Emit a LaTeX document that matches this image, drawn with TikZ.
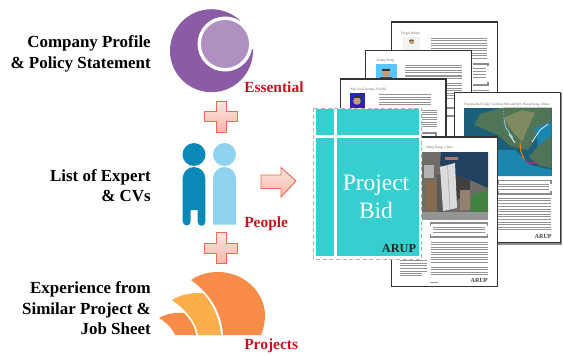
\documentclass[tikz,border=0pt]{standalone}
\usepackage{fontspec}
\setmainfont{Liberation Serif}
\definecolor{purpleD}{HTML}{8B5CA5}
\definecolor{purpleL}{HTML}{AF90C1}
\definecolor{blueD}{HTML}{0A88B8}
\definecolor{blueL}{HTML}{8FD3EE}
\definecolor{orangeD}{HTML}{F88B48}
\definecolor{orangeL}{HTML}{FBAE4A}
\definecolor{teal1}{HTML}{35CFD0}
\definecolor{arrowE}{HTML}{EE6A50}
\definecolor{labelred}{HTML}{C8141E}
\definecolor{water}{HTML}{1B5F78}
\definecolor{waterB}{HTML}{1B86AE}
\definecolor{landA}{HTML}{4F7458}
\definecolor{landB}{HTML}{7F8A60}
\definecolor{navy}{HTML}{22405F}
\definecolor{cityG}{HTML}{6F6C67}
\definecolor{skin}{HTML}{C9996F}
\tikzset{
 x=0.75pt,y=-0.75pt,
 caption/.style={font=\bfseries\fontsize{12.7}{15.3}\selectfont,align=right,anchor=east,inner sep=0pt,text=black},
 tag/.style={font=\bfseries\fontsize{11.6}{14}\selectfont,text=labelred,anchor=west,inner sep=0pt},
 plus/.style={draw=arrowE,line width=0.7pt,top color=arrowE!18,bottom color=arrowE!48},
 sheet/.style={draw=black!80,line width=0.9pt,fill=white},
 txt/.style={draw=black!42,line width=0.55pt},
 brk/.style={draw=black!45,line width=0.9pt},
 small/.style={font=\fontsize{2.6}{3}\selectfont,text=black!60,anchor=west,inner sep=0pt},
 arup/.style={font=\bfseries\fontsize{4.6}{5}\selectfont,text=black!75,anchor=east,inner sep=0pt},
}
\newcommand{\lines}[5]{%
 \foreach \k in {1,...,#4}{\draw[txt] (#1,{#3+(\k-1)*#5}) -- (#2,{#3+(\k-1)*#5});}}
\begin{document}
\begin{tikzpicture}
\useasboundingbox (0,0) rectangle (563,356);
% captions
\node[caption] (c1) at (151,54) {Company Profile\\\& Policy Statement};
\node[caption] (c2) at (151,185.5) {List of Expert\\\& CVs};
\node[caption] (c3) at (151,308.5) {Experience from\\Similar Project \&\\Job Sheet};
% essential icon
\fill[purpleD] (211.5,50.7) circle (41.5);
\fill[white] (225,44) -- (255,0) -- (290,0) -- (281,54) -- cycle;
\fill[white] (225,44) circle (27.5);
\fill[purpleL] (225,44) circle (24);
% plus 1
\draw[plus] (216,101.5) -- (226,101.5) -- (226,111.7) -- (237.5,111.7) -- (237.5,121.7) -- (226,121.7) -- (226,132) -- (216,132) -- (216,121.7) -- (204.5,121.7) -- (204.5,111.7) -- (216,111.7) -- cycle;
% people
\fill[blueD] (194,154.5) circle (11.5);
\fill[blueL] (224.5,154.5) circle (11.5);
\fill[blueD] (182.7,178.3) arc (180:360:11.3) -- (205.3,222) arc (0:180:3.8) -- (197.7,210) -- (190.7,210) -- (190.7,221.5) arc (0:180:4) -- cycle;
\fill[blueL] (213,178.5) arc (180:360:11.5) -- (236,224.5) -- (213,224.5) -- cycle;
% plus 2
\draw[plus] (216,232.5) -- (226,232.5) -- (226,243) -- (237.5,243) -- (237.5,253) -- (226,253) -- (226,263.5) -- (216,263.5) -- (216,253) -- (204.5,253) -- (204.5,243) -- (216,243) -- cycle;
% projects
\fill[orangeD] (191,280) .. controls (200,274) and (209,272) .. (218,272) .. controls (243,272) and (265,291) .. (265,316) .. controls (265,323) and (263,330) .. (261,335) -- (223,335) .. controls (222,315) and (212,295) .. (191,280) -- cycle;
\fill[orangeL] (172,300) .. controls (180,295) and (190,292.5) .. (203,293) .. controls (212,302) and (220,320) .. (221,335) -- (198,335) .. controls (196,322) and (186,310) .. (172,300) -- cycle;
\fill[orangeD] (159,318) .. controls (166,314) and (175,312) .. (184,313) .. controls (190,319) and (195,327) .. (196,335) -- (175,335) .. controls (172,328) and (166,322) .. (159,318) -- cycle;
% tags
\node[tag] (t1) at (244,87) {Essential};
\node[tag] (t2) at (244,224) {People};
\node[tag] (t3) at (244,346) {Projects};
% arrow
\draw[plus] (261,175) -- (281,175) -- (281,167.5) -- (296,181) -- (281,197) -- (281,188.5) -- (261,188.5) -- cycle;
% back sheet 1
\draw[sheet] (391.7,22) rectangle (497.3,158);
\node[small] (n1) at (401,33.7) {Fergal Whyte};
\fill[black!5] (403,37) rectangle (420,51);
\fill[skin] (411.7,41.5) circle (2.6);
\fill[black!60] (409.2,39.6) rectangle (414.2,40.4);
\lines{431}{487}{38}{9}{2.5}
\draw[brk] (473,64) -- (488,64) -- (488,66.5);
\draw[brk] (473,85) -- (488,85) -- (488,82.5);
\lines{473}{486}{68}{4}{3}
\lines{473}{489}{90}{1}{2.5}
% back sheet 2
\draw[sheet] (365.7,50.7) rectangle (471.7,158);
\node[small] (n2) at (376,61) {Yeung Wong};
\fill[blue!35!cyan!65] (376,64) rectangle (397,80);
\fill[skin] (386,73) circle (4);
\fill[black!80] (382,69.5) rectangle (390,71.5);
\fill[black!70] (380,77) rectangle (392,80);
\lines{405}{462}{65}{5}{2.5}
\lines{405}{462}{76}{2}{2.5}
\lines{447}{462}{83}{7}{2.5}
\draw[brk] (447,108) -- (463,108) -- (463,110);
\draw[brk] (447,116) -- (463,116) -- (463,114);
% back sheet 3
\draw[sheet] (340.7,79) rectangle (446,190);
\node[small] (n3) at (350,90) {Paul Sau Cheung TSANG};
\fill[blue!70!black!85] (350,93) rectangle (365,108);
\fill[skin] (357,101) circle (3.8);
\fill[black!80] (353.5,96.5) rectangle (360.5,98.5);
\lines{379}{431}{94.5}{5}{2.5}
\lines{422}{437}{110}{8}{2.4}
\draw[brk] (422,133) -- (436,133) -- (436,137);
% back sheet 4: Express Rail Link
\fill[black!45] (497,243) rectangle (561.5,244.5);
\fill[black!45] (560,93) rectangle (561.5,244.5);
\draw[sheet] (454.5,92.7) rectangle (560.7,242.7);
\node[small] (n4) at (464,104.3) {Express Rail Link: Contract 820 and 821, Hong Kong, China};
\fill[water] (464,107.7) rectangle (551.7,176);
\fill[waterB] (464,150) -- (515,150) -- (530,165) -- (551.7,170) -- (551.7,176) -- (464,176) -- cycle;
\fill[landA] (480,114) -- (503,107.7) -- (551.7,107.7) -- (551.7,122) -- (537,128) -- (535,140) -- (528,150) -- (518,148) -- (510,146) -- (498,135) -- (474,125) -- cycle;
\fill[landB] (503,118) -- (522,110) -- (535,113) -- (527,130) -- (522,142) -- (513,132) -- cycle;
\fill[landA] (529,157) -- (538,146) -- (551.7,135) -- (551.7,168) -- (540,166) -- cycle;
\fill[waterB] (535,128) -- (551.7,122) -- (551.7,135) -- (538,146) -- cycle;
\draw[white!70!blueL,line width=0.6pt] (532,142) -- (540,130) -- (548,124);
\draw[white,line width=0.4pt,dotted] (503,108) -- (504,120);
\draw[blueL,line width=0.6pt] (504,120) -- (506,128) -- (513,138);
\draw[white,line width=0.6pt] (509,134) -- (515,143);
\draw[orange,line width=0.8pt] (520,143) -- (521,152) -- (524,159);
\draw[magenta!70!black,line width=0.7pt] (524,159) -- (528,163) -- (537,162);
\draw[brk] (498,184) -- (498,180.7) -- (551,180.7) -- (551,184);
\draw[brk] (498,191) -- (498,194) -- (551,194) -- (551,191);
\lines{498}{549}{184}{3}{2.5}
\lines{498}{551}{198}{4}{2.8}
\lines{498}{551}{209}{5}{2.6}
\lines{498}{551}{222}{4}{2.6}
\node[arup] (a4) at (552,236.7) {ARUP};
% front sheet
\draw[sheet] (391.7,137) rectangle (497.3,286.7);
\node[small,anchor=east] (n5) at (453,148) {, Hong Kong, China};
\fill[cityG] (421,152) rectangle (488,220);
\fill[navy] (441,152) -- (488,152) -- (488,188) -- (470,180) -- (455,175) -- (440,165) -- cycle;
\fill[red!45!black!55] (445,157) -- (458,157) -- (458,160) -- (445,160) -- cycle;
\fill[black!75] (455,175) -- (470,180) -- (470,192) -- (457,200) -- cycle;
\fill[green!35!black!75] (472,195) -- (488,189) -- (488,213) -- (470,215) -- cycle;
\fill[brown!55!black!80] (426,180) rectangle (437,210);
\fill[black!30] (424,165) rectangle (434,178);
\fill[brown!45!white!65!black] (460,190) rectangle (470,210);
\fill[black!65] (437,175) -- (442,175) -- (444,212) -- (437,212) -- cycle;
\fill[black!14] (440,167) -- (455,163) -- (457,208) -- (443,211) -- cycle;
\draw[black!35,line width=0.4pt] (447.5,165) -- (450,209);
\fill[black!42] (421,212) rectangle (488,220);
\draw[brk] (430.7,226) -- (430.7,223) -- (487.7,223) -- (487.7,226);
\draw[brk] (430.7,234) -- (430.7,237) -- (487.7,237) -- (487.7,234);
\lines{433}{485}{227}{3}{2.8}
\lines{430.7}{487.7}{242}{9}{2.5}
\lines{430.7}{487.7}{267}{4}{2.6}
\node[arup] (a5) at (488,280.5) {ARUP};
\draw[txt] (430,282) -- (438,282);
\lines{400}{427}{260.5}{3}{2.4}
\lines{400}{427}{268.5}{2}{2.4}
\lines{400}{422}{273.5}{2}{2.2}
% cover
\draw[black!30,densely dashed,line width=0.4pt,fill=white] (313.5,108) rectangle (421.5,259);
\fill[teal1] (316,109) rectangle (334,135.5);
\fill[teal1] (336.7,109) rectangle (419.4,135.5);
\fill[teal1] (316,138.3) rectangle (334,256);
\fill[teal1] (336.7,138.3) rectangle (419.4,256);
\node[font=\fontsize{17.6}{21}\selectfont,text=white,align=center,inner sep=0pt] (bid) at (376,197) {Project\\Bid};
\node[font=\bfseries\fontsize{9.2}{10}\selectfont,text=black!85,inner sep=0pt] (au) at (399,248.5) {ARUP};
\end{tikzpicture}
\end{document}
